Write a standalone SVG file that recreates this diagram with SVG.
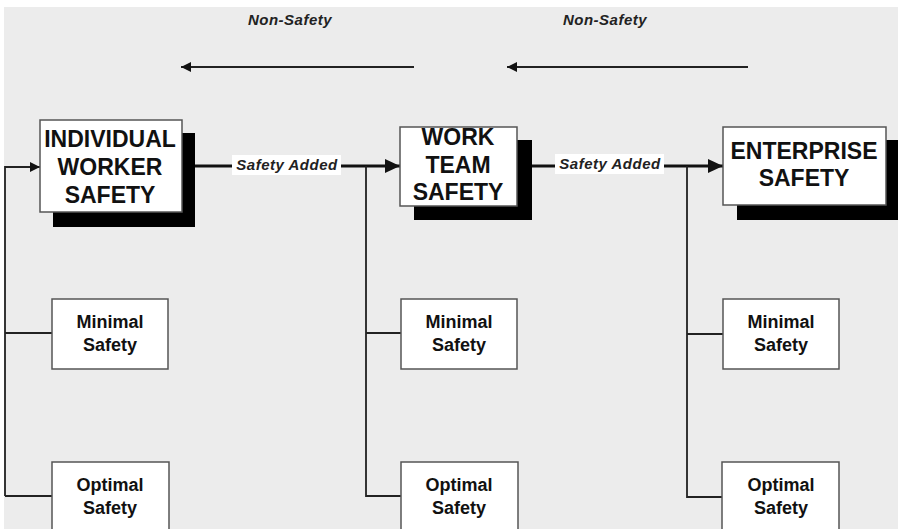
<svg xmlns="http://www.w3.org/2000/svg" width="898" height="529" viewBox="0 0 898 529">
<defs>
<marker id="big" viewBox="0 0 15 14" refX="15" refY="7" markerWidth="15" markerHeight="14" markerUnits="userSpaceOnUse" orient="auto"><path d="M0,0 L15,7 L0,14 Z" fill="#111"/></marker>
<marker id="small" viewBox="0 0 10 10" refX="10" refY="5" markerWidth="10" markerHeight="10" markerUnits="userSpaceOnUse" orient="auto"><path d="M0,0 L10,5 L0,10 Z" fill="#111"/></marker>
</defs>
<style>
.bg{fill:#ececec}
.box{fill:#fff;stroke:#555;stroke-width:1.5}
.shadow{fill:#000}
.big{font-family:"Liberation Sans",Arial,sans-serif;font-weight:bold;font-size:23px;fill:#111;text-anchor:middle}
.sm{font-family:"Liberation Sans",Arial,sans-serif;font-weight:bold;font-size:18px;fill:#111;text-anchor:middle}
.lbl{font-family:"Liberation Sans",Arial,sans-serif;font-weight:bold;font-style:italic;font-size:15px;letter-spacing:0.5px;fill:#222;text-anchor:middle}
.thin{stroke:#222;stroke-width:1.8;fill:none}
.thick{stroke:#111;stroke-width:3;fill:none}
</style>
<rect x="0" y="0" width="898" height="529" fill="#fff"/>
<rect class="bg" x="4" y="7" width="894" height="522"/>
<g id="connectors">
<line class="thin" x1="414" y1="67" x2="181" y2="67" marker-end="url(#small)"/>
<line class="thin" x1="748" y1="67" x2="507" y2="67" marker-end="url(#small)"/>
<polyline class="thin" points="5,496 5,167 40,167" marker-end="url(#small)"/>
<line class="thin" x1="5" y1="333" x2="52" y2="333"/>
<line class="thin" x1="5" y1="496" x2="52" y2="496"/>
<line class="thick" x1="182" y1="166" x2="400" y2="166" marker-end="url(#big)"/>
<polyline class="thin" points="366,166 366,496 401,496"/>
<line class="thin" x1="366" y1="333" x2="401" y2="333"/>
<line class="thick" x1="517" y1="166" x2="723" y2="166" marker-end="url(#big)"/>
<polyline class="thin" points="687,166 687,497 723,497"/>
<line class="thin" x1="687" y1="334" x2="723" y2="334"/>
<rect x="232" y="155" width="109" height="20" fill="#fff"/>
<rect x="555" y="154" width="109" height="20" fill="#fff"/>
<text class="lbl" x="287" y="170">Safety Added</text>
<text class="lbl" x="610" y="169">Safety Added</text>
<text class="lbl" x="290" y="25">Non-Safety</text>
<text class="lbl" x="605" y="25">Non-Safety</text>
</g>
<g id="individual">
<rect class="shadow" x="53" y="133" width="142" height="94"/>
<rect class="box" x="40" y="120" width="142" height="92"/>
<text class="big" x="110" y="147">INDIVIDUAL</text>
<text class="big" x="110" y="175">WORKER</text>
<text class="big" x="110" y="203">SAFETY</text>
</g>
<g id="workteam">
<rect class="shadow" x="414" y="140" width="118" height="80"/>
<rect class="box" x="400" y="127" width="117" height="79"/>
<text class="big" x="458" y="145">WORK</text>
<text class="big" x="458" y="173">TEAM</text>
<text class="big" x="458" y="200">SAFETY</text>
</g>
<g id="enterprise">
<rect class="shadow" x="737" y="140" width="161" height="80"/>
<rect class="box" x="723" y="127" width="163" height="78"/>
<text class="big" x="804" y="159">ENTERPRISE</text>
<text class="big" x="804" y="186">SAFETY</text>
</g>
<g id="minimal1">
<rect class="box" x="52" y="299" width="116" height="70"/>
<text class="sm" x="110" y="328">Minimal</text>
<text class="sm" x="110" y="351">Safety</text>
</g>
<g id="minimal2">
<rect class="box" x="401" y="299" width="116" height="70"/>
<text class="sm" x="459" y="328">Minimal</text>
<text class="sm" x="459" y="351">Safety</text>
</g>
<g id="minimal3">
<rect class="box" x="723" y="299" width="116" height="70"/>
<text class="sm" x="781" y="328">Minimal</text>
<text class="sm" x="781" y="351">Safety</text>
</g>
<g id="optimal1">
<rect class="box" x="52" y="462" width="117" height="80"/>
<text class="sm" x="110" y="491">Optimal</text>
<text class="sm" x="110" y="514">Safety</text>
</g>
<g id="optimal2">
<rect class="box" x="401" y="462" width="117" height="80"/>
<text class="sm" x="459" y="491">Optimal</text>
<text class="sm" x="459" y="514">Safety</text>
</g>
<g id="optimal3">
<rect class="box" x="722" y="462" width="117" height="80"/>
<text class="sm" x="781" y="491">Optimal</text>
<text class="sm" x="781" y="514">Safety</text>
</g>
</svg>
